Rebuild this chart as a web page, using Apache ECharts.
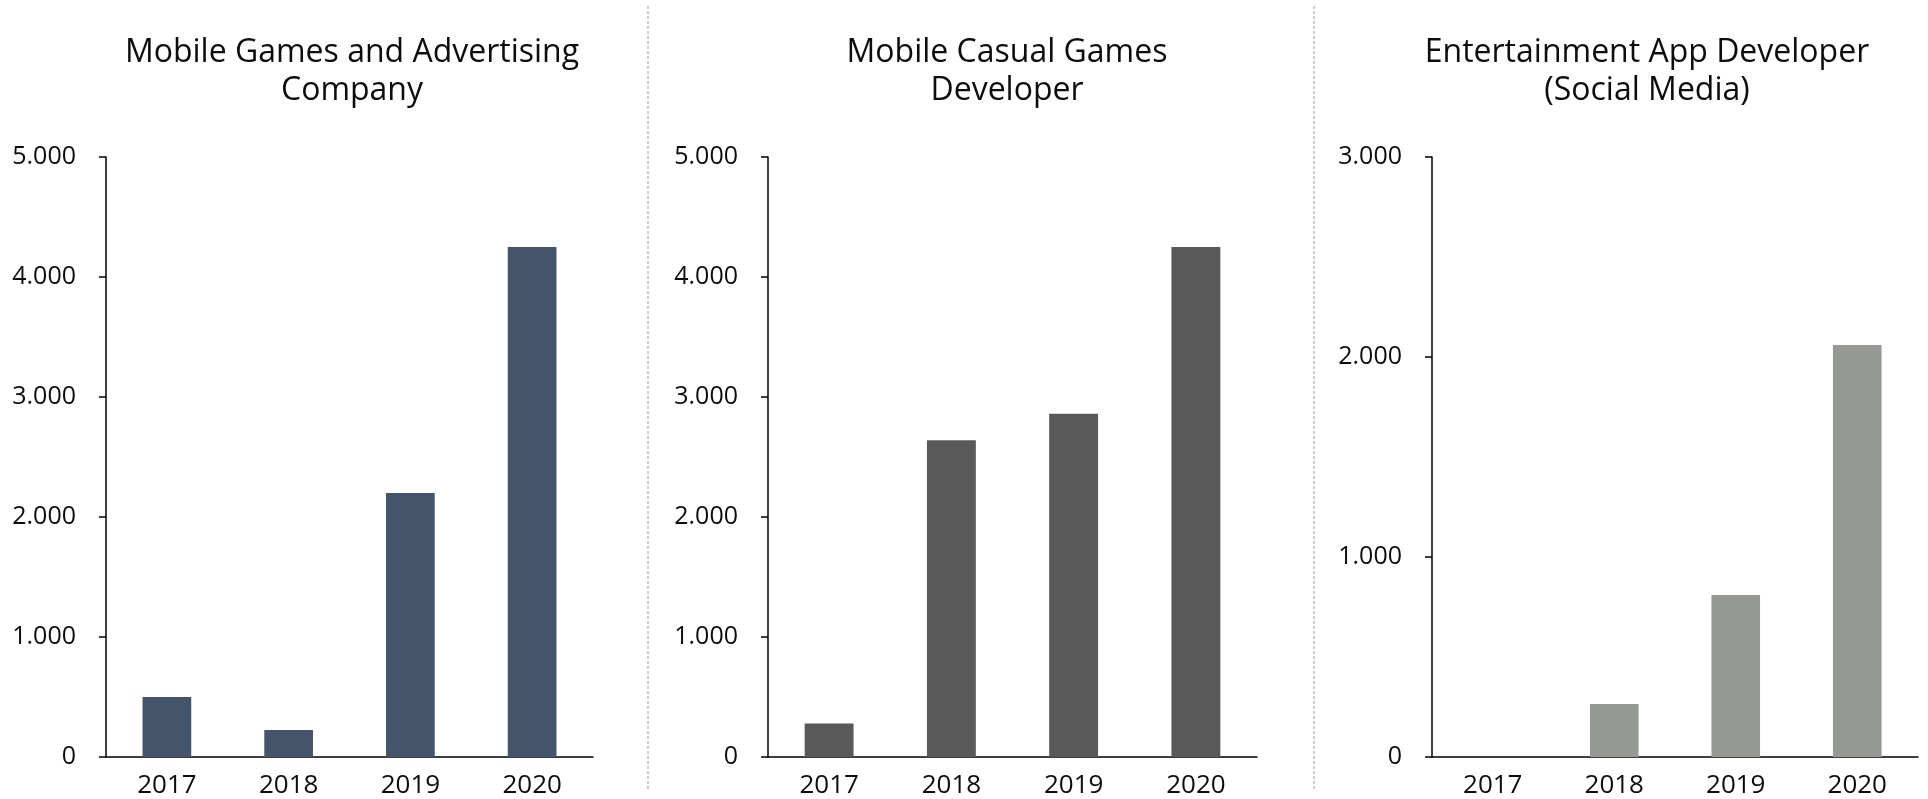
<!DOCTYPE html>
<html>
<head>
<meta charset="utf-8">
<script src="https://cdn.jsdelivr.net/npm/echarts@6/dist/echarts.min.js"></script>
<style>
  html, body { margin: 0; padding: 0; background: #ffffff; }
  #chart { width: 1928px; height: 799px; }
</style>
</head>
<body>
<div id="chart"></div>
<script>
// Years shown on every panel
const years = ['2017', '2018', '2019', '2020'];

// Panel titles
const titleGames = 'Mobile Games and Advertising\nCompany';
const titleCasual = 'Mobile Casual Games\nDeveloper';
const titleEntertainment = 'Entertainment App Developer\n(Social Media)';

// Values per company
const gamesValues = [500, 225, 2200, 4250];
const casualValues = [280, 2640, 2860, 4250];
const entertainmentValues = [0, 265, 810, 2060];

// Value axis ranges
const gamesAxisMax = 5000;
const casualAxisMax = 5000;
const entertainmentAxisMax = 3000;
const axisStep = 1000;

const FONT = 'Open Sans';

function fmtThousands(v) {
  return String(v).replace(/\B(?=(\d{3})+(?!\d))/g, '.');
}

const panels = [
  { title: titleGames, values: gamesValues, max: gamesAxisMax, color: '#44546A', left: 106, width: 487, titleX: 347 },
  { title: titleCasual, values: casualValues, max: casualAxisMax, color: '#595959', left: 768, width: 489, titleX: 1002 },
  { title: titleEntertainment, values: entertainmentValues, max: entertainmentAxisMax, color: '#969893', left: 1432, width: 486, titleX: 1642 }
];

const chart = echarts.init(document.getElementById('chart'), null, { renderer: 'canvas' });

const option = {
  animation: false,
  backgroundColor: '#ffffff',
  title: panels.map(p => ({
    text: p.title,
    left: p.titleX,
    top: 29,
    textAlign: 'center',
    textStyle: { fontFamily: FONT, fontSize: 32, fontWeight: 'normal', color: '#0d0d0d', lineHeight: 38 }
  })),
  grid: panels.map(p => ({ left: p.left, width: p.width, top: 157, height: 600 })),
  xAxis: panels.map((p, i) => ({
    type: 'category',
    gridIndex: i,
    data: years,
    axisLine: { lineStyle: { color: '#000000', width: 1.5 } },
    axisTick: { show: false },
    axisLabel: { fontFamily: FONT, fontSize: 26, color: '#0d0d0d', margin: 16 }
  })),
  yAxis: panels.map((p, i) => ({
    type: 'value',
    gridIndex: i,
    min: 0,
    max: p.max,
    interval: axisStep,
    splitLine: { show: false },
    axisLine: { show: true, lineStyle: { color: '#000000', width: 1.5 } },
    axisTick: { show: true, length: 7, lineStyle: { color: '#000000', width: 1.5 } },
    axisLabel: { fontFamily: FONT, fontSize: 25, color: '#0d0d0d', margin: 30, formatter: fmtThousands }
  })),
  series: panels.map((p, i) => ({
    type: 'bar',
    xAxisIndex: i,
    yAxisIndex: i,
    data: p.values,
    barWidth: '40%',
    itemStyle: { color: p.color }
  })),
  graphic: [648, 1314].map(x => ({
    type: 'line',
    shape: { x1: x, y1: 6, x2: x, y2: 790 },
    style: { stroke: '#9a9a9a', lineWidth: 1, lineDash: [3, 2] },
    silent: true
  }))
};

chart.setOption(option);
</script>
</body>
</html>
